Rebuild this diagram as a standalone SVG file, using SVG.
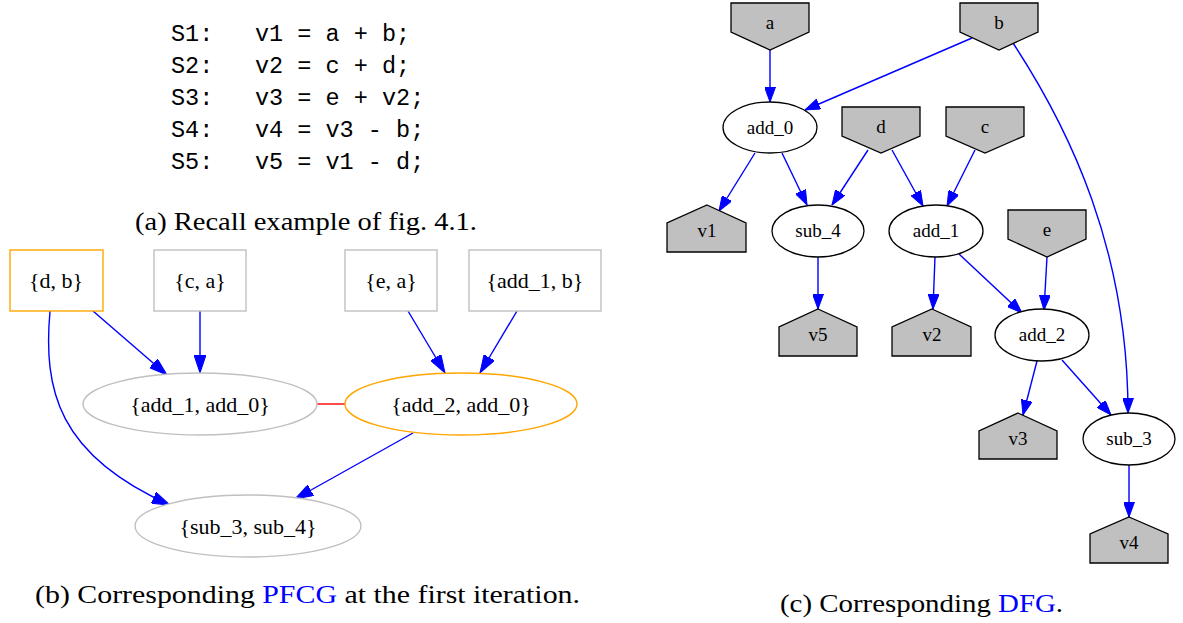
<svg xmlns="http://www.w3.org/2000/svg" width="1183" height="623" viewBox="0 0 1183 623">
<style>
.code{font-family:"Liberation Mono","DejaVu Sans Mono",monospace;font-size:23.5px;fill:#000}
.cap{font-family:"Liberation Serif","DejaVu Serif",serif;font-size:25px;fill:#000}
.lnk{fill:#0000ff}
.lbl{font-family:"Liberation Serif","DejaVu Serif",serif;font-size:22px;fill:#000;text-anchor:middle}
.sl{font-family:"Liberation Serif","DejaVu Serif",serif;font-size:19px;fill:#000;text-anchor:middle}
.gbox{fill:#fff;stroke:#c0c0c0;stroke-width:1.4}
.obox{fill:#fff;stroke:#ffa500;stroke-width:1.4}
.io{fill:#c0c0c0;stroke:#000;stroke-width:1.3}
.op{fill:#fff;stroke:#000;stroke-width:1.3}
.e{fill:none;stroke:#0000ff;stroke-width:1.4}
.eb{marker-end:url(#ab)}
.es{marker-end:url(#as)}
</style>
<defs>
<marker id="ab" markerUnits="userSpaceOnUse" markerWidth="18" markerHeight="12" refX="18" refY="6" orient="auto"><path d="M0,0 L18,6 L0,12 z" fill="#0000ff" stroke="#0000ff" stroke-width="1"/></marker>
<marker id="as" markerUnits="userSpaceOnUse" markerWidth="15" markerHeight="11" refX="15" refY="5.5" orient="auto"><path d="M0,0 L15,5.5 L0,11 z" fill="#0000ff" stroke="#0000ff" stroke-width="1"/></marker>
</defs>

<g id="code">
<text class="code" x="171" y="41">S1:</text><text class="code" x="255" y="41">v1 = a + b;</text>
<text class="code" x="171" y="73">S2:</text><text class="code" x="255" y="73">v2 = c + d;</text>
<text class="code" x="171" y="105">S3:</text><text class="code" x="255" y="105">v3 = e + v2;</text>
<text class="code" x="171" y="137">S4:</text><text class="code" x="255" y="137">v4 = v3 - b;</text>
<text class="code" x="171" y="169">S5:</text><text class="code" x="255" y="169">v5 = v1 - d;</text>
</g>
<text class="cap" x="135" y="230" textLength="342" lengthAdjust="spacingAndGlyphs">(a) Recall example of fig. 4.1.</text>
<text class="cap" x="35" y="603" textLength="545" lengthAdjust="spacingAndGlyphs">(b) Corresponding <tspan class="lnk">PFCG</tspan> at the first iteration.</text>
<text class="cap" x="780" y="612" textLength="283" lengthAdjust="spacingAndGlyphs">(c) Corresponding <tspan class="lnk">DFG</tspan>.</text>

<!-- PFCG connectors -->
<g id="pfcg-edges">
<path class="e eb" d="M93,311 L167,375"/>
<path class="e eb" d="M200,311 L200,373"/>
<path class="e eb" d="M408,311 L445,373"/>
<path class="e eb" d="M517,311 L480,373"/>
<path class="e eb" d="M50,311 C43,390 58,455 170,505"/>
<path class="e eb" d="M413,433 L295,499"/>
<path d="M317,404 L345,404" fill="none" stroke="#ff0000" stroke-width="1.4"/>
</g>

<!-- PFCG nodes -->
<g id="n_db"><rect class="obox" x="10" y="250" width="93" height="61"/><text class="lbl" x="56" y="288">{d, b}</text></g>
<g id="n_ca"><rect class="gbox" x="154" y="250" width="92" height="61"/><text class="lbl" x="200" y="288">{c, a}</text></g>
<g id="n_ea"><rect class="gbox" x="345" y="250" width="92" height="61"/><text class="lbl" x="391" y="288">{e, a}</text></g>
<g id="n_add1b"><rect class="gbox" x="469" y="250" width="132" height="61"/><text class="lbl" x="535" y="288">{add_1, b}</text></g>
<g id="n_add1add0"><ellipse class="gbox" cx="200" cy="404" rx="117" ry="31"/><text class="lbl" x="200" y="412">{add_1, add_0}</text></g>
<g id="n_add2add0"><ellipse class="obox" cx="461" cy="404" rx="116" ry="31"/><text class="lbl" x="461" y="412">{add_2, add_0}</text></g>
<g id="n_sub3sub4"><ellipse class="gbox" cx="248" cy="526" rx="113" ry="31"/><text class="lbl" x="248" y="534">{sub_3, sub_4}</text></g>

<!-- DFG connectors -->
<g id="dfg-edges">
<path class="e es" d="M770,50 L770,102"/>
<path class="e es" d="M972,38 L805,110"/>
<path class="e es" d="M1013,43 C1070,130 1128,250 1128,413"/>
<path class="e es" d="M755,153 L719,211"/>
<path class="e es" d="M782,153 L807,205"/>
<path class="e es" d="M868,150 L832,205"/>
<path class="e es" d="M892,150 L923,206"/>
<path class="e es" d="M975,150 L947,206"/>
<path class="e es" d="M818,257 L818,309"/>
<path class="e es" d="M935,257 L933,309"/>
<path class="e es" d="M959,254 L1022,313"/>
<path class="e es" d="M1047,257 L1044,310"/>
<path class="e es" d="M1037,361 L1023,415"/>
<path class="e es" d="M1062,360 L1111,415"/>
<path class="e es" d="M1129,465 L1129,517"/>
</g>

<!-- DFG nodes -->
<g id="d_a"><polygon class="io" points="731,3 809,3 809,32 770,50 731,32"/><text class="sl" x="770" y="29">a</text></g>
<g id="d_b"><polygon class="io" points="960,3 1038,3 1038,32 999,50 960,32"/><text class="sl" x="999" y="29">b</text></g>
<g id="d_d"><polygon class="io" points="842,107 920,107 920,136 881,153 842,136"/><text class="sl" x="881" y="133">d</text></g>
<g id="d_c"><polygon class="io" points="946,107 1024,107 1024,136 985,153 946,136"/><text class="sl" x="985" y="133">c</text></g>
<g id="d_e"><polygon class="io" points="1008,210 1086,210 1086,239 1047,257 1008,239"/><text class="sl" x="1047" y="236">e</text></g>
<g id="d_add0"><ellipse class="op" cx="770" cy="127.5" rx="47" ry="25.5"/><text class="sl" x="770" y="134">add_0</text></g>
<g id="d_sub4"><ellipse class="op" cx="818" cy="231" rx="46" ry="26"/><text class="sl" x="818" y="237">sub_4</text></g>
<g id="d_add1"><ellipse class="op" cx="936" cy="231" rx="47" ry="26"/><text class="sl" x="936" y="237">add_1</text></g>
<g id="d_add2"><ellipse class="op" cx="1042" cy="335" rx="47" ry="26"/><text class="sl" x="1042" y="341">add_2</text></g>
<g id="d_sub3"><ellipse class="op" cx="1129" cy="439" rx="46" ry="26"/><text class="sl" x="1129" y="445">sub_3</text></g>
<g id="d_v1"><polygon class="io" points="707,205 746,223 746,252 667,252 667,223"/><text class="sl" x="707" y="237">v1</text></g>
<g id="d_v5"><polygon class="io" points="818,309 857,327 857,356 779,356 779,327"/><text class="sl" x="818" y="341">v5</text></g>
<g id="d_v2"><polygon class="io" points="932,309 971,327 971,356 892,356 892,327"/><text class="sl" x="932" y="341">v2</text></g>
<g id="d_v3"><polygon class="io" points="1018,413 1057,431 1057,459 979,459 979,431"/><text class="sl" x="1018" y="445">v3</text></g>
<g id="d_v4"><polygon class="io" points="1129,517 1168,534 1168,563 1090,563 1090,534"/><text class="sl" x="1129" y="549">v4</text></g>
</svg>
